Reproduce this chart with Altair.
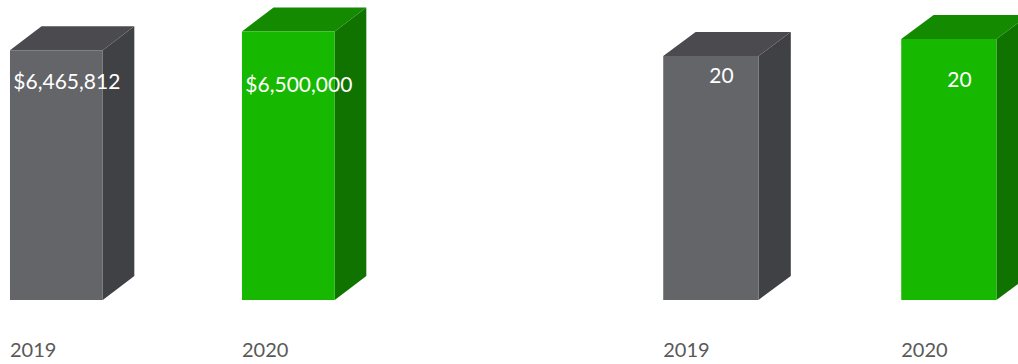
import altair as alt
import pandas as pd

# ---- data ----
YEARS = ["2019", "2020"]
REVENUE = [6465812, 6500000]
REVENUE_LABELS = ["$6,465,812", "$6,500,000"]
HEADCOUNT = [20, 20]
HEADCOUNT_LABELS = ["20", "20"]

# ---- style ----
FRONT = ["#646569", "#17b900"]
SIDE = ["#404144", "#107300"]
TOP = ["#4b4b4f", "#138a00"]
PERSP = [1.0, 1.07]          # 3-D perspective stretch of the rear bar
LABEL_PERSP = [1.0, 0.984]
BAR_W = 0.4                   # front-face width, in slot units
DEPTH_X = 0.136               # depth, in slot units
DEPTH_Y = 0.08                # depth, as fraction of the value domain
H = 300
FONT = "Lato"


def panel(values, labels, ymax, width, xmax, label_dy):
    dy = DEPTH_Y * ymax
    front_rows, side_rows, top_rows = [], [], []
    for i, (yr, v, lab) in enumerate(zip(YEARS, values, labels)):
        top = v * PERSP[i]
        front_rows.append(dict(bar=i, year=yr, x=i, x2=i + BAR_W, y=top, y2=0,
                               color=FRONT[i], label=lab, lx=i + 0.245,
                               ly=v * LABEL_PERSP[i]))
        side_rows.append(dict(bar=i, x=i + BAR_W, y=top, y2=0, color=SIDE[i]))
        side_rows.append(dict(bar=i, x=i + BAR_W + DEPTH_X, y=top + dy, y2=dy, color=SIDE[i]))
        top_rows.append(dict(bar=i, y=top, x=i, x2=i + BAR_W, color=TOP[i]))
        top_rows.append(dict(bar=i, y=top + dy, x=i + DEPTH_X, x2=i + BAR_W + DEPTH_X, color=TOP[i]))

    xs = alt.Scale(domain=[-0.043, xmax], nice=False, zero=False)
    ys = alt.Scale(domain=[0, ymax], nice=False, zero=True)

    front_df = pd.DataFrame(front_rows)
    side = alt.Chart(pd.DataFrame(side_rows)).mark_area(orient="vertical", clip=True).encode(
        x=alt.X("x:Q", scale=xs, axis=None),
        y=alt.Y("y:Q", scale=ys, axis=None, stack=None),
        y2="y2:Q",
        detail="bar:N",
        color=alt.Color("color:N", scale=None),
    )
    topf = alt.Chart(pd.DataFrame(top_rows)).mark_area(orient="horizontal", clip=True).encode(
        y=alt.Y("y:Q", scale=ys, axis=None),
        x=alt.X("x:Q", scale=xs, axis=None, stack=None),
        x2="x2:Q",
        detail="bar:N",
        color=alt.Color("color:N", scale=None),
    )
    front = alt.Chart(front_df).mark_rect(clip=True).encode(
        x=alt.X("x:Q", scale=xs, axis=None),
        x2="x2:Q",
        y=alt.Y("y:Q", scale=ys, axis=None),
        y2="y2:Q",
        color=alt.Color("color:N", scale=None),
    )
    vlab = alt.Chart(front_df).mark_text(
        dy=label_dy, baseline="alphabetic", align="center", color="white",
        font=FONT, fontSize=21,
    ).encode(
        x=alt.X("lx:Q", scale=xs, axis=None),
        y=alt.Y("ly:Q", scale=ys, axis=None),
        text="label:N",
    )
    ylab = alt.Chart(front_df).mark_text(
        baseline="alphabetic", align="left", color="#595959",
        font=FONT, fontSize=20,
    ).encode(
        x=alt.X("x:Q", scale=xs, axis=None),
        y=alt.value(357),
        text="year:N",
    )
    return alt.layer(side, topf, front, vlab, ylab).properties(width=width, height=H)


left = panel(REVENUE, REVENUE_LABELS, 7770000, 381, -0.043 + 381 / 232, 38.6)
right = panel(HEADCOUNT, HEADCOUNT_LABELS, 24.6, 365, -0.043 + 365 / 238, 27)

chart = alt.hconcat(left, right, spacing=272).properties(padding=0).configure_view(stroke=None)

chart.save("out.html", embed_options={"renderer": "svg", "actions": False})
